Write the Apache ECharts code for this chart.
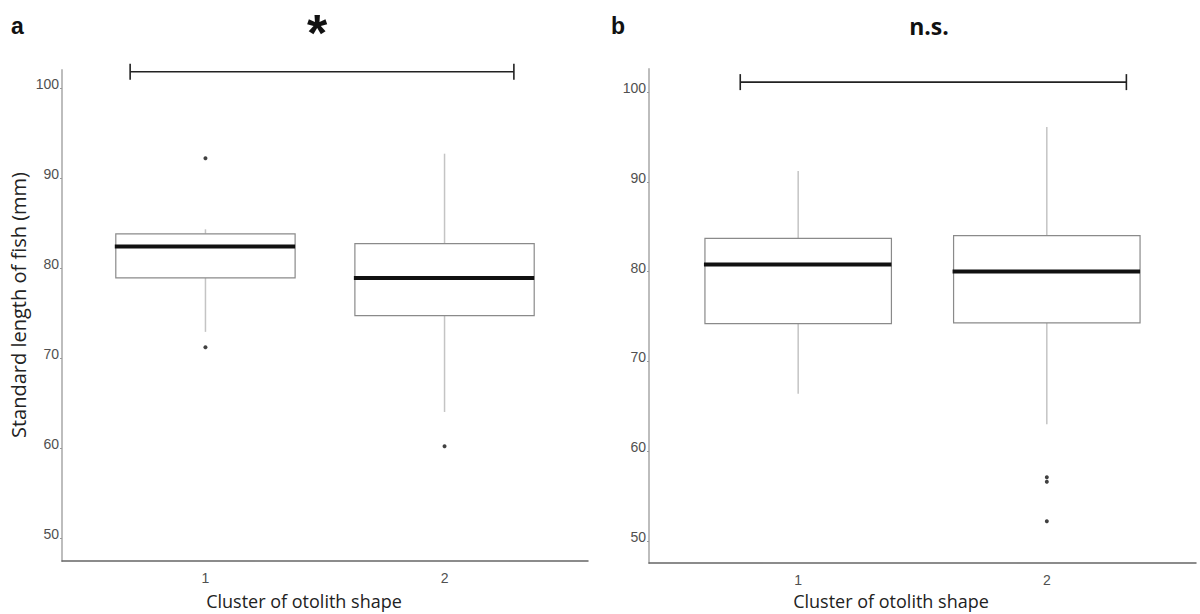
<!DOCTYPE html>
<html><head><meta charset="utf-8">
<script src="https://cdn.jsdelivr.net/npm/echarts@6/dist/echarts.min.js"></script>
<style>html,body{margin:0;padding:0;background:#fff}#c{width:1200px;height:614px}</style>
</head><body><div id="c"></div>
<script>
const categories = [1, 2];
const yTicks = [50, 60, 70, 80, 90, 100];
// Panel a
const aLow  = [72.9, 64.0];
const aQ1   = [78.9, 74.7];
const aMed  = [82.4, 78.9];
const aQ3   = [83.8, 82.7];
const aHigh = [84.3, 92.7];
const aOutliers = [[1, 92.2], [1, 71.2], [2, 60.2]];
// Panel b
const bLow  = [66.4, 63.0];
const bQ1   = [74.2, 74.3];
const bMed  = [80.8, 80.0];
const bQ3   = [83.7, 84.0];
const bHigh = [91.2, 96.1];
const bOutliers = [[2, 57.1], [2, 56.6], [2, 52.2]];
// significance brackets: [from, to, level]
const bracketA = [[0.685, 2.29, 101.8]];
const bracketB = [[0.767, 2.32, 101.1]];
const labelA = ['a', '*'];
const labelB = ['b', 'n.s.'];
const yName = 'Standard length of fish (mm)';
const xName = 'Cluster of otolith shape';

function boxData(low, q1, med, q3, high) {
  return categories.map((c, i) => [c, low[i], q1[i], med[i], q3[i], high[i]]);
}
function renderBox(params, api) {
  const x = api.value(0);
  const half = 0.375;
  const pLow = api.coord([x, api.value(1)]);
  const pQ1 = api.coord([x, api.value(2)]);
  const pMed = api.coord([x, api.value(3)]);
  const pQ3 = api.coord([x, api.value(4)]);
  const pHigh = api.coord([x, api.value(5)]);
  const l = api.coord([x - half, api.value(3)])[0];
  const r = api.coord([x + half, api.value(3)])[0];
  const wStyle = {stroke: '#c4c4c4', lineWidth: 1.5};
  return {type: 'group', children: [
    {type: 'line', shape: {x1: pHigh[0], y1: pHigh[1], x2: pQ3[0], y2: pQ3[1]}, style: wStyle},
    {type: 'line', shape: {x1: pQ1[0], y1: pQ1[1], x2: pLow[0], y2: pLow[1]}, style: wStyle},
    {type: 'rect', shape: {x: l, y: pQ3[1], width: r - l, height: pQ1[1] - pQ3[1]}, style: {fill: '#fff', stroke: '#8a8a8a', lineWidth: 1.2}},
    {type: 'line', shape: {x1: l - 1, y1: pMed[1], x2: r, y2: pMed[1]}, style: {stroke: '#111', lineWidth: 4}}
  ]};
}
function renderBracket(params, api) {
  const p1 = api.coord([api.value(0), api.value(2)]);
  const p2 = api.coord([api.value(1), api.value(2)]);
  const st = {stroke: '#222', lineWidth: 1.6};
  return {type: 'group', children: [
    {type: 'line', shape: {x1: p1[0], y1: p1[1], x2: p2[0], y2: p2[1]}, style: st},
    {type: 'line', shape: {x1: p1[0], y1: p1[1] - 8, x2: p1[0], y2: p1[1] + 8}, style: st},
    {type: 'line', shape: {x1: p2[0], y1: p2[1] - 8, x2: p2[0], y2: p2[1] + 8}, style: st}
  ]};
}
const tickFont = {color: '#505050', fontSize: 14, fontFamily: "'Liberation Sans Narrow','Liberation Sans',sans-serif"};
function xAxis(gi) {
  return {type: 'value', gridIndex: gi, min: 0.4, max: 2.6,
    axisLine: {show: true, lineStyle: {color: '#666', width: 1.5}},
    axisTick: {show: false},
    splitLine: {show: false},
    axisLabel: Object.assign({customValues: categories, margin: 10}, tickFont)};
}
function yAxis(gi, min, max) {
  return {type: 'value', gridIndex: gi, min: min, max: max,
    axisLine: {show: true, lineStyle: {color: '#bdbdbd', width: 2}},
    axisTick: {show: true, customValues: yTicks, length: 2, lineStyle: {color: '#999'}},
    splitLine: {show: false},
    axisLabel: Object.assign({customValues: yTicks, margin: 3, verticalAlign: 'bottom', padding: [0, 0, -3, 0]}, tickFont)};
}
const chart = echarts.init(document.getElementById('c'), null, {renderer: 'svg'});
chart.setOption({
  animation: false,
  backgroundColor: '#fff',
  grid: [
    {left: 62, right: 612, top: 70, bottom: 53},
    {left: 649, right: 4, top: 69, bottom: 51}
  ],
  xAxis: [xAxis(0), xAxis(1)],
  yAxis: [yAxis(0, 47.44, 102), yAxis(1, 47.55, 102.56)],
  graphic: [
    {type: 'text', left: 11, top: 14, style: {text: labelA[0], font: 'bold 23px "Liberation Sans"', fill: '#111'}},
    {type: 'text', x: 317, y: 7, style: {text: labelA[1], font: 'bold 52px "Liberation Sans"', fill: '#111', textAlign: 'center'}},
    {type: 'text', left: 611, top: 14, style: {text: labelB[0], font: 'bold 23px "Liberation Sans"', fill: '#111'}},
    {type: 'text', x: 929, y: 14, style: {text: labelB[1], font: 'bold 23px "Open Sans"', fill: '#111', textAlign: 'center'}},
    {type: 'text', x: 18, y: 305, rotation: Math.PI / 2, style: {text: yName, font: '20px "Open Sans"', fill: '#222', textAlign: 'center', textVerticalAlign: 'middle'}},
    {type: 'text', x: 304, y: 601, style: {text: xName, font: '18px "Open Sans"', fill: '#222', textAlign: 'center', textVerticalAlign: 'middle'}},
    {type: 'text', x: 891, y: 601, style: {text: xName, font: '18px "Open Sans"', fill: '#222', textAlign: 'center', textVerticalAlign: 'middle'}}
  ],
  series: [
    {type: 'custom', xAxisIndex: 0, yAxisIndex: 0, renderItem: renderBox, encode: {x: 0, y: [1, 2, 3, 4, 5]}, data: boxData(aLow, aQ1, aMed, aQ3, aHigh)},
    {type: 'scatter', xAxisIndex: 0, yAxisIndex: 0, symbolSize: 4, itemStyle: {color: '#111'}, data: aOutliers},
    {type: 'custom', xAxisIndex: 0, yAxisIndex: 0, renderItem: renderBracket, clip: false, data: bracketA},
    {type: 'custom', xAxisIndex: 1, yAxisIndex: 1, renderItem: renderBox, encode: {x: 0, y: [1, 2, 3, 4, 5]}, data: boxData(bLow, bQ1, bMed, bQ3, bHigh)},
    {type: 'scatter', xAxisIndex: 1, yAxisIndex: 1, symbolSize: 4, itemStyle: {color: '#111'}, data: bOutliers},
    {type: 'custom', xAxisIndex: 1, yAxisIndex: 1, renderItem: renderBracket, clip: false, data: bracketB}
  ]
});
</script></body></html>
